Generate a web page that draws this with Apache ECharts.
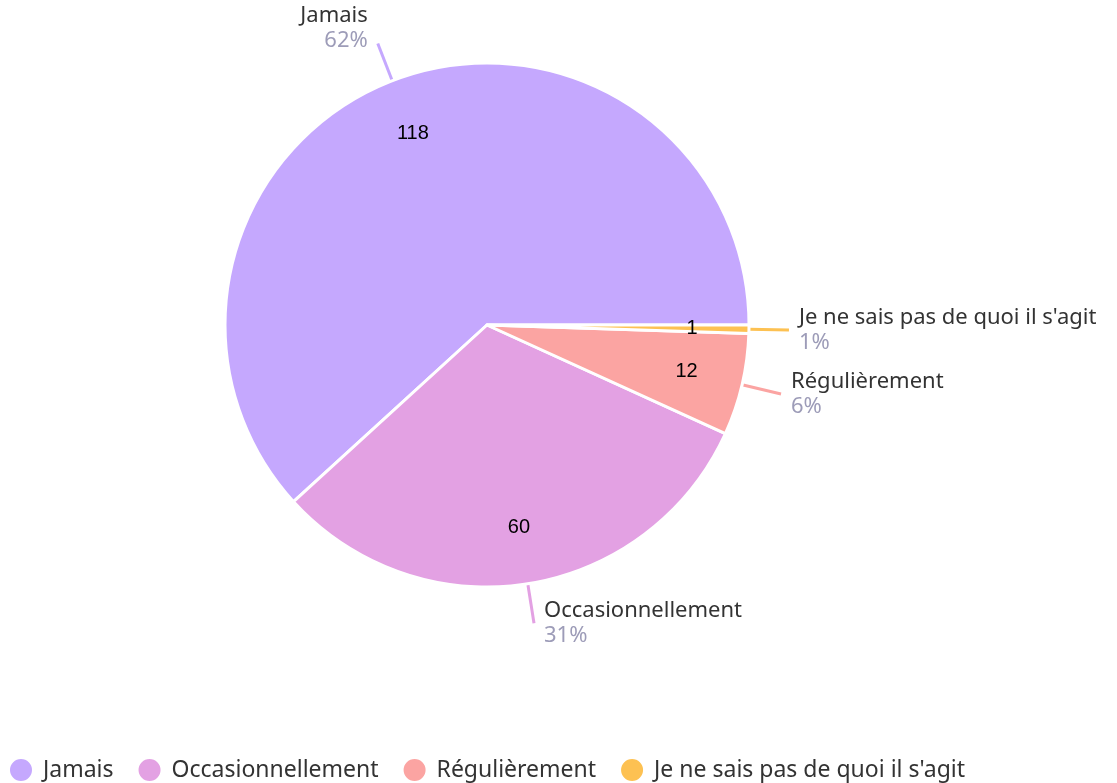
<!DOCTYPE html>
<html>
<head>
<meta charset="utf-8">
<script src="https://cdn.jsdelivr.net/npm/echarts@6/dist/echarts.min.js"></script>
<style>
  html, body { margin: 0; padding: 0; background: #fff; }
  #chart { width: 1117px; height: 783px; }
</style>
</head>
<body>
<div id="chart"></div>
<script>
// answers and counts
const categories = ['Jamais', 'Occasionnellement', 'Régulièrement', "Je ne sais pas de quoi il s'agit"];
const counts = [118, 60, 12, 1];
const colors = ['#c5a8fe', '#e3a1e3', '#fba4a2', '#fdc152'];

const outerData = categories.map((name, i) => {
  const item = { name: name, value: counts[i] };
  // first label sits a bit higher in the original
  if (i === 0) item.label = { padding: [0, 0, 30, 0] };
  return item;
});
const innerData = categories.map((name, i) => ({ name: name, value: counts[i] }));

const chart = echarts.init(document.getElementById('chart'));

const textFont = {
  fontFamily: 'Noto Sans',
  fontSize: 22
};

const option = {
  color: colors,
  legend: {
    data: categories,
    left: 3,
    top: 752,
    icon: 'circle',
    itemWidth: 24,
    itemHeight: 24,
    itemGap: 23,
    textStyle: { color: '#333', padding: [0, 0, 0, 5], fontFamily: 'Noto Sans', fontSize: 23 }
  },
  series: [
    {
      // slices + outer labels
      name: 'outer',
      type: 'pie',
      center: [487, 325],
      radius: [0, 262],
      startAngle: 0,
      clockwise: false,
      percentPrecision: 0,
      data: outerData,
      itemStyle: {
        borderColor: '#fff',
        borderWidth: 3
      },
      emphasis: { scale: false },
      label: {
        show: true,
        position: 'outside',
        overflow: 'none',
        distanceToLabelLine: 10,
        formatter: '{n|{b}}\n{p|{d}%}',
        rich: {
          n: Object.assign({ color: '#333', lineHeight: 25 }, textFont),
          p: Object.assign({ color: '#9d9cb8', lineHeight: 25 }, textFont)
        }
      },
      labelLine: {
        show: true,
        length: 40,
        length2: 0,
        lineStyle: { width: 3 }
      }
    },
    {
      // value labels inside the slices
      name: 'inner',
      type: 'pie',
      center: [487, 325],
      radius: [142, 262],
      startAngle: 0,
      clockwise: false,
      silent: true,
      data: innerData,
      itemStyle: { color: 'transparent', borderWidth: 0 },
      label: {
        show: true,
        position: 'inside',
        formatter: '{c}',
        fontFamily: 'Liberation Sans',
        fontSize: 20,
        color: '#000'
      },
      labelLine: { show: false }
    }
  ]
};

chart.setOption(option);
</script>
</body>
</html>
